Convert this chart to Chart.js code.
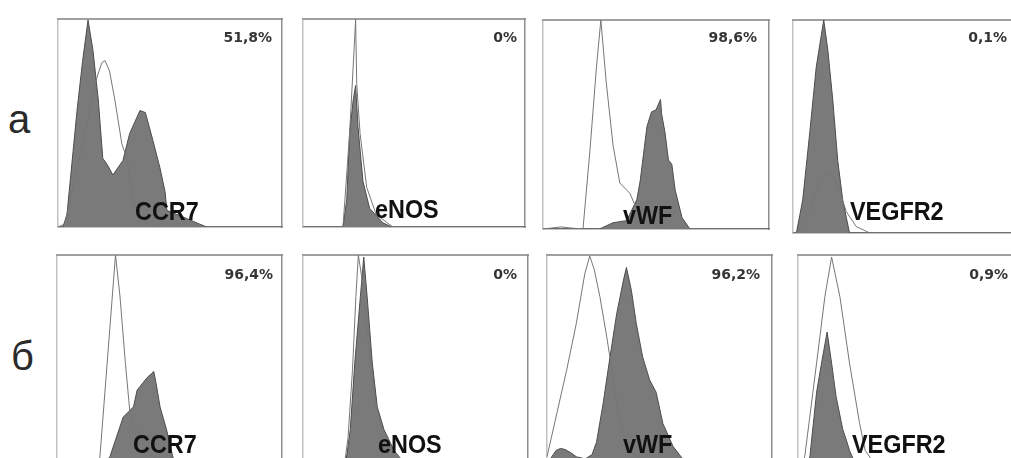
<!DOCTYPE html>
<html>
<head>
<meta charset="utf-8">
<script src="https://cdn.jsdelivr.net/npm/chart.js@4.4.0/dist/chart.umd.min.js"></script>
<style>
  html, body { margin: 0; padding: 0; background: #fff; overflow: hidden; width: 1011px; height: 458px; }
  .panel { position: absolute; }
  .pct { position: absolute; font: bold 14px "DejaVu Sans", sans-serif; color: #353535; line-height: 14px; white-space: nowrap; }
  .marker { position: absolute; font: bold 26px "Liberation Sans", Arial, sans-serif; color: #111; line-height: 26px; white-space: nowrap; transform: scaleX(0.9); transform-origin: left top; }
  .rowlabel { position: absolute; font: 40px "Liberation Sans", Arial, sans-serif; color: #2a2a2a; line-height: 40px; }
</style>
</head>
<body>
<script>
// row / marker names and positive fractions
const rowNames = ['а', 'б'];
const markers = ['CCR7', 'eNOS', 'vWF', 'VEGFR2'];
const pctRowA = ['51,8%', '0%', '98,6%', '0,1%'];
const pctRowB = ['96,4%', '0%', '96,2%', '0,9%'];

// histograms: x = channel (% of axis), y = count (% of max)
// row a
const ccr7A_grayX = [0, 2.2, 4, 8.5, 11, 13.4, 15.6, 18, 20, 22, 24.5, 29, 32, 36.6, 39, 42.4, 45.5, 47.8, 48.6, 57.6, 63, 66.5, 100];
const ccr7A_grayY = [0, 0, 6, 56, 80, 99.5, 85, 61, 33, 30, 25, 32, 45, 56, 55, 41.5, 28.5, 17, 8, 4, 1.5, 0, 0];
const ccr7A_isoX = [0, 3, 10, 17.4, 19.6, 21, 23, 25.4, 28.5, 31, 33.5, 38, 45, 100];
const ccr7A_isoY = [0, 1.5, 35, 72, 79, 80, 75, 61, 40, 32, 12.5, 3, 0, 0];

const enosA_grayX = [0, 18, 19.7, 21, 22.6, 23.7, 24.8, 27, 30, 36, 40, 100];
const enosA_grayY = [0, 0, 13, 45, 61, 68, 48, 22, 9, 2, 0, 0];
const enosA_isoX = [0, 18, 21, 23, 23.7, 24.2, 25.7, 28.7, 33, 40.5, 100];
const enosA_isoY = [0, 0, 45, 85, 100, 69, 45, 19, 6, 0, 0];

const vwfA_grayX = [0, 25, 31, 37, 41.5, 43, 46, 48, 50, 52, 52.5, 54, 55.5, 57, 58.5, 61.5, 65, 100];
const vwfA_grayY = [0, 0, 3, 4, 14, 23, 49, 56, 57, 62, 55, 46, 33, 31, 18.5, 5.5, 0, 0];
const vwfA_isoX = [0, 8, 12, 17.7, 20.8, 23.7, 25.6, 28, 31, 34, 38.5, 43, 50, 55, 100];
const vwfA_isoY = [0, 1, 0.5, 0, 38, 78, 100, 70, 40, 22, 17, 5.5, 2, 0, 0];

const vegfr2A_grayX = [0, 1.5, 4.3, 7.4, 10.3, 13.6, 15.4, 17.6, 19.8, 22, 25, 100];
const vegfr2A_grayY = [0, 0, 15.5, 47, 78, 100, 86, 62.5, 34, 15.5, 0, 0];
const vegfr2A_isoX = [0, 2, 7.4, 11.8, 16.2, 19.8, 23.6, 28, 34, 100];
const vegfr2A_isoY = [0, 0, 11, 24, 28.5, 22, 10, 3, 0, 0];

// row b
const ccr7B_grayX = [0, 21, 23.5, 29.4, 34, 35.6, 40, 42, 43, 44, 45.8, 48.7, 51.6, 55, 100];
const ccr7B_grayY = [0, 0, 3, 22, 27, 35, 41, 43, 44, 38.5, 27, 16, 2.4, 0, 0];
const ccr7B_isoX = [0, 19, 26, 28, 30.4, 32.6, 34, 40, 46, 100];
const ccr7B_isoY = [0, 2, 100, 80, 48, 22, 19, 6, 0, 0];

const enosB_grayX = [0, 19, 21, 23, 25.5, 27, 28.5, 30.8, 33, 36, 40.5, 43.5, 46, 100];
const enosB_grayY = [0, 0, 16, 48, 80, 99, 80, 48, 27, 16, 6, 2, 0, 0];
const enosB_isoX = [0, 18.5, 20, 22, 23.5, 24.6, 26, 27.5, 29.5, 32, 35, 40, 45, 100];
const enosB_isoY = [0, 0, 12, 45, 80, 100, 90, 75, 52, 30, 17, 6, 0, 0];

const vwfB_grayX = [0, 1.5, 4, 6, 8, 10.5, 13, 17, 20, 22, 25, 28, 31, 34, 35.3, 37.5, 39.7, 42.5, 45.6, 48.5, 51.5, 56, 60, 63, 100];
const vwfB_grayY = [0, 2, 6, 7, 6.5, 5, 3, 2, 4, 10, 29, 51, 72, 88, 94, 83, 67, 51, 40, 34, 19, 8, 2.4, 0, 0];
const vwfB_isoX = [0, 4.4, 8.8, 13, 16.8, 19, 21, 23.5, 26.5, 29.3, 32, 35, 40, 45, 100];
const vwfB_isoY = [3, 24, 45, 67, 91, 99.5, 93, 80, 61, 41.5, 22, 10, 3, 0, 0];

const vegfr2B_grayX = [0, 4, 5.3, 8.3, 10.5, 13, 15, 17, 20, 21.6, 23, 24.5, 27, 100];
const vegfr2B_grayY = [0, 0, 3, 34, 48, 63, 48, 32, 16, 11, 6, 2.4, 0, 0];
const vegfr2B_isoX = [0, 2, 3, 8.3, 12, 15, 18.7, 23, 27.5, 30, 34, 100];
const vegfr2B_isoY = [0, 0, 3, 48, 80, 99, 80, 48, 19, 6, 0, 0];

function toPoints(xs, ys) {
    return xs.map((x, i) => ({x: x, y: ys[i]}));
}

function hiddenAxis(position, color, width) {
    return {
        type: 'linear',
        position: position,
        min: 0,
        max: 100,
        ticks: {display: false},
        grid: {display: false, drawTicks: false},
        border: {display: true, color: color, width: width}
    };
}

function addText(cls, text, left, top, right) {
    const el = document.createElement('div');
    el.className = cls;
    el.textContent = text;
    el.style.top = top + 'px';
    if (right !== undefined) el.style.right = (1011 - right) + 'px';
    else el.style.left = left + 'px';
    document.body.appendChild(el);
}

function makePanel(box, grayX, grayY, isoX, isoY) {
    const pad = 2;
    const wrap = document.createElement('div');
    wrap.className = 'panel';
    wrap.style.left = (box.left - pad) + 'px';
    wrap.style.top = (box.top - pad) + 'px';
    const canvas = document.createElement('canvas');
    canvas.width = box.w + pad * 2;
    canvas.height = box.h + pad * 2;
    wrap.appendChild(canvas);
    document.body.appendChild(wrap);

    new Chart(canvas, {
        type: 'line',
        data: {
            datasets: [
                {
                    data: toPoints(grayX, grayY),
                    fill: 'origin',
                    backgroundColor: '#7a7a7a',
                    borderColor: '#4d4d4d',
                    borderWidth: 1,
                    pointRadius: 0,
                    tension: 0,
                    order: 2
                },
                {
                    data: toPoints(isoX, isoY),
                    fill: false,
                    borderColor: '#767676',
                    borderWidth: 1,
                    pointRadius: 0,
                    tension: 0,
                    order: 1
                }
            ]
        },
        options: {
            responsive: false,
            animation: false,
            layout: {padding: pad},
            plugins: {legend: {display: false}, tooltip: {enabled: false}},
            scales: {
                x: hiddenAxis('bottom', '#8a8a8a', 1.5),
                y: hiddenAxis('left', '#c2c2c2', 1.5),
                xTop: hiddenAxis('top', '#a0a0a0', 2),
                yRight: hiddenAxis('right', '#8e8e8e', 1.5)
            }
        }
    });
}

document.addEventListener('DOMContentLoaded', function () {
    const boxes = [
        {left: 58, top: 19, w: 224, h: 208},
        {left: 303, top: 19, w: 222, h: 208},
        {left: 543, top: 20, w: 226, h: 209},
        {left: 793, top: 20, w: 226, h: 213},
        {left: 57, top: 255, w: 225, h: 208},
        {left: 303, top: 255, w: 225, h: 208},
        {left: 547, top: 255, w: 225, h: 208},
        {left: 798, top: 255, w: 224, h: 208}
    ];

    makePanel(boxes[0], ccr7A_grayX, ccr7A_grayY, ccr7A_isoX, ccr7A_isoY);
    makePanel(boxes[1], enosA_grayX, enosA_grayY, enosA_isoX, enosA_isoY);
    makePanel(boxes[2], vwfA_grayX, vwfA_grayY, vwfA_isoX, vwfA_isoY);
    makePanel(boxes[3], vegfr2A_grayX, vegfr2A_grayY, vegfr2A_isoX, vegfr2A_isoY);
    makePanel(boxes[4], ccr7B_grayX, ccr7B_grayY, ccr7B_isoX, ccr7B_isoY);
    makePanel(boxes[5], enosB_grayX, enosB_grayY, enosB_isoX, enosB_isoY);
    makePanel(boxes[6], vwfB_grayX, vwfB_grayY, vwfB_isoX, vwfB_isoY);
    makePanel(boxes[7], vegfr2B_grayX, vegfr2B_grayY, vegfr2B_isoX, vegfr2B_isoY);

    // percentages, right aligned near top right corner
    const pctRight = [272, 517, 757, 1007];
    pctRowA.forEach((t, i) => addText('pct', t, 0, 30, pctRight[i]));
    const pctRightB = [273, 517, 760, 1008];
    pctRowB.forEach((t, i) => addText('pct', t, 0, 267, pctRightB[i]));

    // marker names
    const markerLeftA = [135, 375, 623, 850];
    const markerTopA = [198, 196, 202, 198];
    markers.forEach((t, i) => addText('marker', t, markerLeftA[i], markerTopA[i]));
    const markerLeftB = [133, 378, 623, 852];
    markers.forEach((t, i) => addText('marker', t, markerLeftB[i], 431));

    addText('rowlabel', rowNames[0], 8, 99);
    addText('rowlabel', rowNames[1], 11, 336);
});
</script>
</body>
</html>
